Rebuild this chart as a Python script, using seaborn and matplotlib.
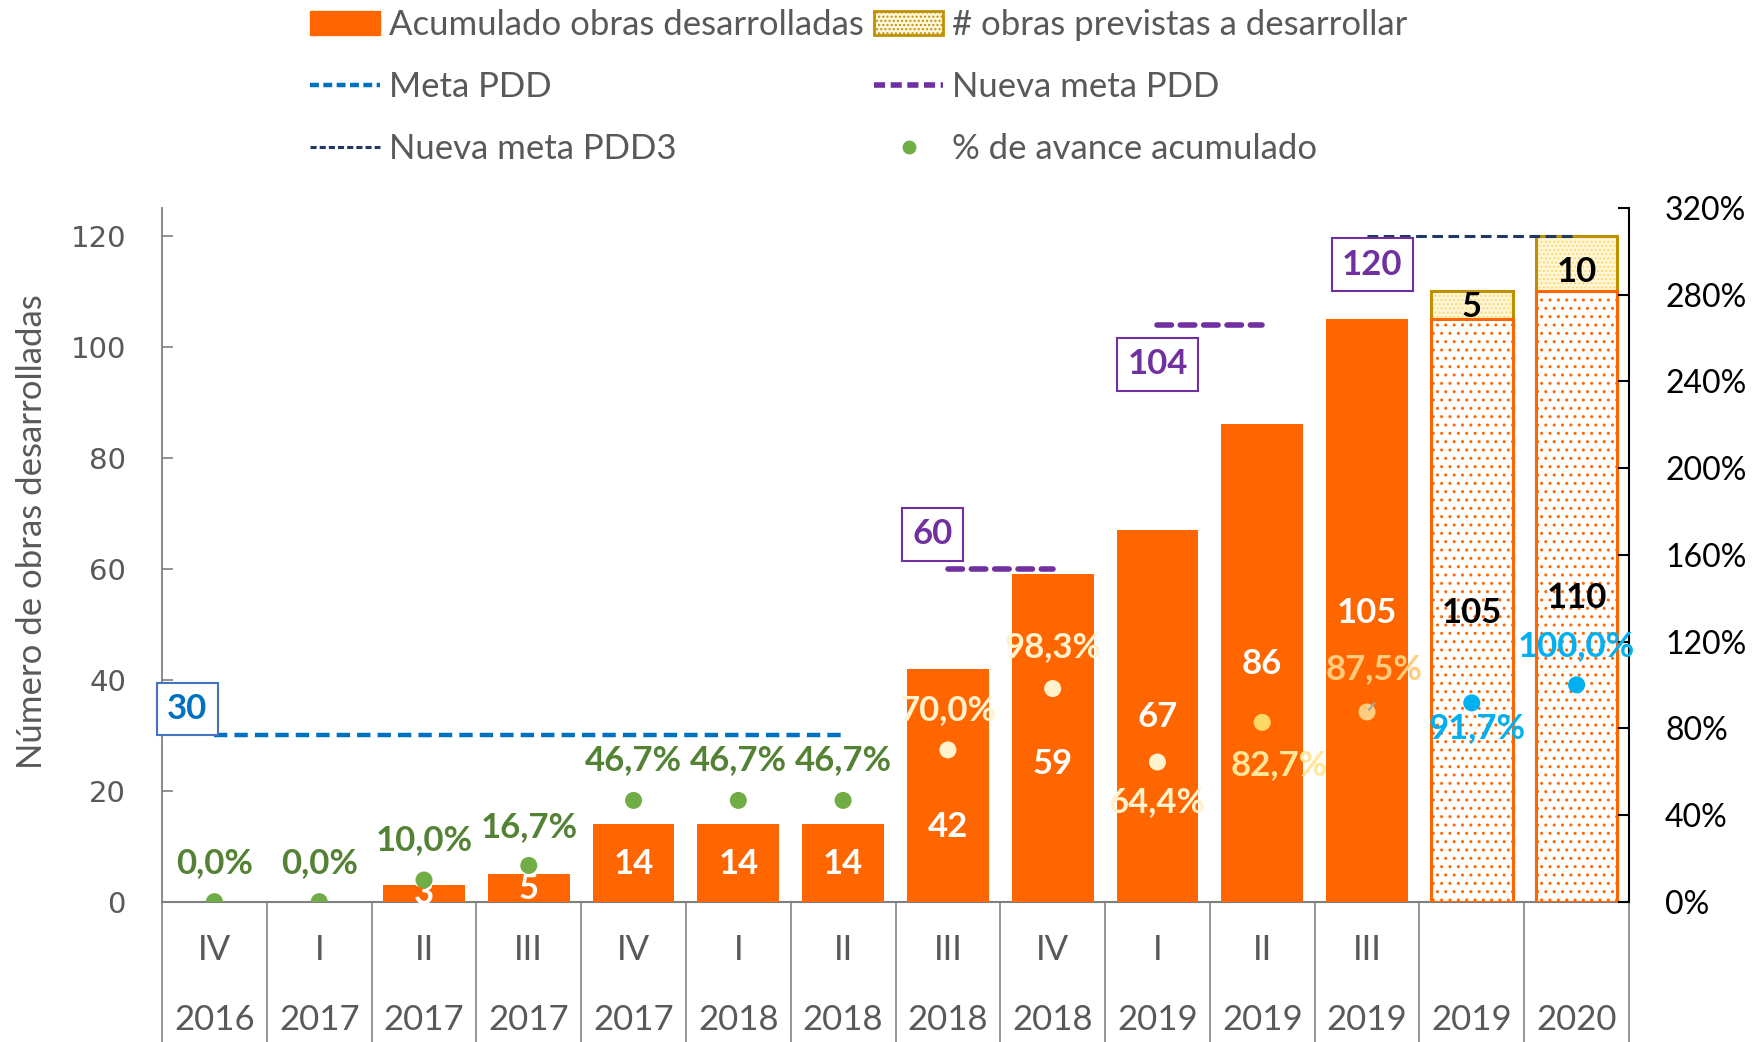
import matplotlib
matplotlib.use("Agg")
import matplotlib.pyplot as plt
import matplotlib.transforms as mtransforms
from matplotlib.patches import Patch
from matplotlib.lines import Line2D
import numpy as np
import pandas as pd
import seaborn as sns

# ---------------- data ----------------
quarters = ["IV", "I", "II", "III", "IV", "I", "II", "III", "IV", "I", "II", "III", "", ""]
years = ["2016", "2017", "2017", "2017", "2017", "2018", "2018", "2018", "2018",
         "2019", "2019", "2019", "2019", "2020"]
categories = [f"{q}-{y}" if q else y for q, y in zip(quarters, years)]

acumulado = [0, 0, 3, 5, 14, 14, 14, 42, 59, 67, 86, 105, np.nan, np.nan]
proyectado = [np.nan] * 12 + [105, 110]
previstas = [np.nan] * 12 + [5, 10]
avance = [0.0, 0.0, 0.100, 0.167, 0.467, 0.467, 0.467, 0.700, 0.983, 0.644,
          0.827, 0.875, 0.917, 1.000]
avance_labels = ["0,0%", "0,0%", "10,0%", "16,7%", "46,7%", "46,7%", "46,7%", "70,0%",
                 "98,3%", "64,4%", "82,7%", "87,5%", "91,7%", "100,0%"]
avance_grupo = ["verde"] * 7 + ["crema"] * 3 + ["amarillo", "durazno", "cian", "cian"]

meta_pdd = [30] * 7 + [np.nan] * 7
nueva_meta = [np.nan] * 7 + [60, 60, np.nan, np.nan, np.nan, np.nan, np.nan]
nueva_meta_b = [np.nan] * 9 + [104, 104, np.nan, np.nan, np.nan]
nueva_meta_pdd3 = [np.nan] * 11 + [120, 120, 120]

# ---------------- styles ----------------
ORANGE = "#FF6600"
GRAY_TXT = "#595959"
dot_colors = {"verde": "#70AD47", "crema": "#FFF2CC", "amarillo": "#FFD966",
              "durazno": "#FFCC80", "cian": "#00B0F0"}
lbl_colors = {"verde": "#548235", "crema": "#FFF2CC", "amarillo": "#FFE699",
              "durazno": "#FFCC80", "cian": "#00B0F0"}
lbl_dx = [0, 0, 0, 0, 0, 0, 0, 0, 0, 0, 12, 5, 4, 0]
lbl_dy = [28, 28, 29, 28, 29, 29, 29, 29, 30, -29, -31, 31, -18, 28]

sns.set_theme(style="white")
plt.rcParams["font.family"] = ["Lato", "DejaVu Sans"]
plt.rcParams["hatch.linewidth"] = 1.0

FS = 25
fig = plt.figure(figsize=(17.54, 10.42), dpi=100)
ax = fig.add_axes([0.0924, 0.1347, 0.8363, 0.6657])

n = len(categories)
x = np.arange(n)

df = pd.DataFrame({"cat": categories, "acum": acumulado, "proy": proyectado,
                   "prev": previstas})
df["total_prev"] = df["proy"] + df["prev"]

# stacked forecast (total drawn first, covered by projected part)
sub = df.dropna(subset=["total_prev"])
sns.barplot(data=sub, x="cat", y="total_prev", order=categories, color="#FFF7DC",
            saturation=1, width=0.78, edgecolor="#FFD966", linewidth=0, hatch="....",
            ax=ax, zorder=2)
sns.barplot(data=sub, x="cat", y="total_prev", order=categories, color="none",
            saturation=1, width=0.78, edgecolor="#BF9000", linewidth=2.2, fill=False,
            ax=ax, zorder=3)
sns.barplot(data=sub, x="cat", y="proy", order=categories, color="white",
            saturation=1, width=0.78, edgecolor=ORANGE, linewidth=0, hatch="..",
            ax=ax, zorder=4)
sns.barplot(data=sub, x="cat", y="proy", order=categories, color="none",
            saturation=1, width=0.78, edgecolor=ORANGE, linewidth=2.2, fill=False,
            ax=ax, zorder=5)
sub2 = df.dropna(subset=["acum"])
sns.barplot(data=sub2, x="cat", y="acum", order=categories, color=ORANGE,
            saturation=1, width=0.78, linewidth=0, ax=ax, zorder=4)

# goal lines
ax.plot(x, meta_pdd, color="#0070C0", lw=3.2, dashes=(3, 1.6), zorder=6)
ax.plot(x, nueva_meta, color="#7030A0", lw=4, dashes=(2.6, 1.6),
        dash_capstyle="round", zorder=6)
ax.plot(x, nueva_meta_b, color="#7030A0", lw=4, dashes=(2.6, 1.6),
        dash_capstyle="round", zorder=6)
ax.plot(x, nueva_meta_pdd3, color="#203864", lw=2.2, dashes=(3.5, 1.8), zorder=6)

# goal boxes
def goal_box(xp, yp, txt, col, ecol):
    ax.text(xp, yp, txt, color=col, fontsize=FS, fontweight="bold", ha="center",
            va="center", zorder=8,
            bbox=dict(boxstyle="square,pad=0.3", fc="white", ec=ecol, lw=1.5))

goal_box(-0.26, 34.7, "30", "#0070C0", "#4472C4")
goal_box(6.85, 66.2, "60", "#7030A0", "#7030A0")
goal_box(9.0, 96.8, "104", "#7030A0", "#7030A0")
goal_box(11.05, 114.8, "120", "#7030A0", "#7030A0")

# bar value labels
bar_lbl_y = [None, None, 1.3, 2.3, 6.8, 6.8, 6.8, 13.5, 24.8, 33.3, 42.8, 52.0, 52.0, 54.7]
for i in range(n):
    if bar_lbl_y[i] is None:
        continue
    if i < 12:
        ax.text(i, bar_lbl_y[i], f"{int(acumulado[i])}", color="white", fontsize=FS,
                fontweight="bold", ha="center", va="center", zorder=9)
    else:
        ax.text(i, bar_lbl_y[i], f"{int(proyectado[i])}", color="black", fontsize=FS,
                fontweight="bold", ha="center", va="center", zorder=9)
for i, yy in zip([12, 13], [107.2, 113.4]):
    ax.text(i, yy, f"{int(previstas[i])}", color="black", fontsize=FS,
            fontweight="bold", ha="center", va="center", zorder=9)

ax.set_xlim(-0.5, n - 0.5)
ax.set_ylim(0, 125)
ax.set_yticks(np.arange(0, 121, 20))
ax.set_yticklabels([str(v) for v in range(0, 121, 20)], fontfamily="DejaVu Sans",
                   fontsize=21, color=GRAY_TXT)
ax.tick_params(axis="y", direction="in", length=8, width=1.2, color="#808080", pad=26,
               left=True)
ax.set_xticks([])
ax.set_xlabel("")
ax.set_ylabel("Número de obras desarrolladas", fontsize=FS, color=GRAY_TXT)
ax.yaxis.set_label_coords(-0.078, 0.534)
for s in ["top", "right"]:
    ax.spines[s].set_visible(False)
ax.spines["left"].set_color("#808080")
ax.spines["left"].set_linewidth(1.3)
ax.spines["bottom"].set_color("#808080")
ax.spines["bottom"].set_linewidth(1.5)

# two-level category axis
trans = mtransforms.blended_transform_factory(ax.transData, ax.transAxes)
for i in range(n):
    ax.text(i, -0.069, quarters[i], transform=trans, ha="center", va="center",
            fontsize=FS, color=GRAY_TXT)
    ax.text(i, -0.171, years[i], transform=trans, ha="center", va="center",
            fontsize=FS, color=GRAY_TXT)
for i in range(n + 1):
    ax.plot([i - 0.5, i - 0.5], [0, -0.21], transform=trans, color="#8C8C8C",
            lw=1.3, clip_on=False)

# secondary axis: % avance
ax2 = ax.twinx()
dfp = pd.DataFrame({"x": x, "avance": avance, "grupo": avance_grupo})
sns.scatterplot(data=dfp, x="x", y="avance", hue="grupo", palette=dot_colors,
                s=150, linewidth=0, legend=False, ax=ax2, zorder=10)
for i in range(n):
    ax2.annotate(avance_labels[i], xy=(x[i], avance[i]), xytext=(lbl_dx[i], lbl_dy[i]),
                 textcoords="offset points", ha="center", va="center",
                 fontsize=FS, fontweight="bold", color=lbl_colors[avance_grupo[i]],
                 zorder=11)
# leader line for 87,5%
ax2.annotate("", xy=(11, avance[11]), xytext=(11.09, avance[11] + 0.05),
             arrowprops=dict(arrowstyle="-", color="#A6A6A6", lw=1.5), zorder=11)
ax2.set_ylim(0, 3.2)
ax2.set_xlim(-0.5, n - 0.5)
ax2.set_yticks(np.arange(0, 3.21, 0.4))
ax2.set_yticklabels([f"{int(round(v*100))}%" for v in np.arange(0, 3.21, 0.4)],
                    fontsize=23, color="black")
ax2.tick_params(axis="y", direction="in", length=8, width=1.5, color="black", pad=26,
                right=True)
ax2.set_ylabel("")
ax2.set_xlabel("")
for s in ["top", "left", "bottom"]:
    ax2.spines[s].set_visible(False)
ax2.spines["right"].set_color("black")
ax2.spines["right"].set_linewidth(1.5)

# legend
handles = [
    Patch(facecolor=ORANGE, edgecolor=ORANGE),
    Line2D([], [], color="#0070C0", lw=3.2, dashes=(2, 1)),
    Line2D([], [], color="#203864", lw=2.2, dashes=(2, 1)),
    Patch(facecolor="#FFF7DC", edgecolor="#BF9000", hatch="....", lw=2),
    Line2D([], [], color="#7030A0", lw=4, dashes=(2, 1)),
    Line2D([], [], color="#70AD47", marker="o", lw=0, markersize=9),
]
labels = ["Acumulado obras desarrolladas", "Meta PDD", "Nueva meta PDD3",
          "# obras previstas a desarrollar", "Nueva meta PDD", "% de avance acumulado"]
fig.legend(handles, labels, ncol=2, loc="upper left", bbox_to_anchor=(0.177, 0.991),
           frameon=False, fontsize=FS, handlelength=2.0, handletextpad=0.25,
           columnspacing=0.3, labelspacing=0.86, borderpad=0.0, borderaxespad=0.0,
           labelcolor=GRAY_TXT)

fig.savefig("out.png", dpi=100)
